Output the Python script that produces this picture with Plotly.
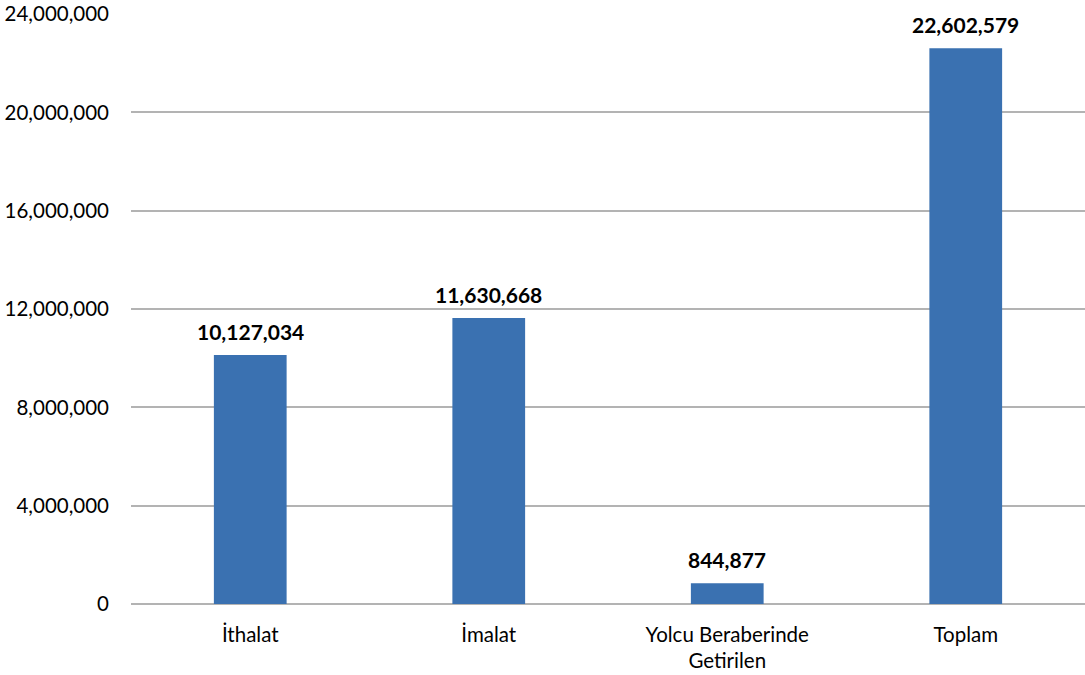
import plotly.graph_objects as go

categories = ["İthalat", "İmalat", "Yolcu Beraberinde<br>Getirilen", "Toplam"]
values = [10127034, 11630668, 844877, 22602579]
tick_values = [0, 4000000, 8000000, 12000000, 16000000, 20000000, 24000000]
tick_labels = ["0", "4,000,000", "8,000,000", "12,000,000", "16,000,000", "20,000,000", "24,000,000"]

FONT = "Lato, Open Sans, sans-serif"
BAR_COLOR = "#3a71b1"

fig = go.Figure(
    go.Bar(
        x=categories,
        y=values,
        marker=dict(color=BAR_COLOR, line=dict(width=0)),
        width=0.305,
    )
)

# Value labels above each bar
for cat, val in zip(categories, values):
    fig.add_annotation(
        x=cat, y=val, text=f"<b>{val:,}</b>", showarrow=False,
        yanchor="bottom", yshift=9,
        font=dict(family=FONT, size=21, color="#000000"),
    )

fig.update_layout(
    width=1085, height=675,
    margin=dict(l=131, r=0, t=14, b=71),
    paper_bgcolor="white", plot_bgcolor="white",
    showlegend=False,
    font=dict(family=FONT, size=20, color="#000000"),
    bargap=0.695,
)
fig.update_xaxes(
    showgrid=False, showline=False, zeroline=False,
    ticks="outside", ticklen=0, ticklabelstandoff=12,
    tickfont=dict(family=FONT, size=20.5, color="#000000"),
)
fig.update_yaxes(
    range=[0, 24000000], tickvals=tick_values, ticktext=tick_labels,
    showgrid=True, gridcolor="#b3b3b3", gridwidth=1.5,
    zeroline=True, zerolinecolor="#b3b3b3", zerolinewidth=1.5,
    showline=False, ticks="", ticklabelstandoff=21,
    tickfont=dict(family=FONT, size=20.5, color="#000000"),
)

fig.write_html("out.html")
